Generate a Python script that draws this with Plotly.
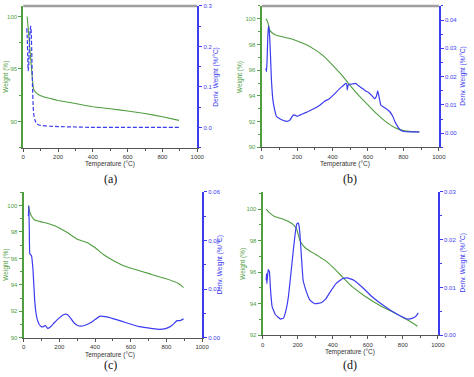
import plotly.graph_objects as go

# ---------------- data ----------------
# Panel (a)
Ta_w = [22, 26, 30, 35, 40, 45, 50, 55, 60, 70, 100, 150, 200, 300, 400, 500, 600, 700, 800, 895]
Wa   = [100.0, 99.3, 98.5, 97.5, 96.5, 95.5, 94.5, 93.6, 93.05, 92.8, 92.45, 92.2, 92.0, 91.7, 91.4, 91.2, 91.0, 90.75, 90.45, 90.1]
Ta_d = [20, 23, 26, 28, 31, 35, 39, 43, 46, 49, 53, 57, 61, 66, 75, 90, 100, 150, 200, 300, 400, 600, 800, 900]
Da   = [0.245, 0.22, 0.17, 0.14, 0.15, 0.20, 0.24, 0.25, 0.23, 0.18, 0.10, 0.05, 0.03, 0.02, 0.01, 0.006, 0.005, 0.003, 0.002, 0.001, 0.0, 0.0, 0.0, 0.0]

# Panel (b)
Tb_w = [25, 35, 46, 60, 87, 150, 200, 250, 300, 350, 400, 450, 500, 550, 600, 650, 700, 750, 800, 850, 890]
Wb   = [100.0, 99.7, 99.1, 98.9, 98.7, 98.5, 98.28, 98.0, 97.6, 97.1, 96.4, 95.65, 94.8, 94.0, 93.3, 92.6, 92.0, 91.55, 91.3, 91.22, 91.2]
Tb_d = [24, 27, 30, 34, 38, 40, 43, 46, 50, 55, 60, 65, 75, 83, 100, 120, 142, 160, 179, 190, 200, 230, 260, 300, 330,
        355, 382, 410, 437, 460, 474, 480, 483, 487, 493, 510, 530, 548, 570, 585, 603, 620, 637, 648, 655, 662, 673,
        695, 723, 740, 751, 765, 779, 800, 843, 890]
Db   = [0.023, 0.0218, 0.025, 0.033, 0.038, 0.0375, 0.036, 0.033, 0.027, 0.019, 0.014, 0.011, 0.0078, 0.006, 0.0052,
        0.0046, 0.0042, 0.0047, 0.0065, 0.0063, 0.006, 0.0068, 0.0076, 0.0088, 0.01,
        0.0113, 0.0122, 0.0138, 0.0156, 0.0168, 0.0176, 0.0174, 0.0153, 0.0168, 0.0173, 0.0174, 0.0176, 0.0167,
        0.0158, 0.015, 0.0144, 0.0134, 0.0122, 0.0132, 0.015, 0.013, 0.0099,
        0.009, 0.0076, 0.006, 0.0042, 0.0026, 0.0014, 0.0006, 0.0005, 0.0005]

# Panel (c)
Tc_w = [27, 35, 44, 62, 99, 154, 200, 245, 300, 355, 401, 447, 502, 557, 612, 703, 795, 868, 896]
Wc   = [100.0, 99.5, 99.2, 98.9, 98.76, 98.56, 98.3, 97.95, 97.45, 97.2, 96.8, 96.3, 95.84, 95.47, 95.22, 94.85, 94.48, 94.1, 93.8]
Tc_d = [27, 29, 32, 35, 44, 53, 62, 70, 77, 88, 99, 110, 121, 135, 150, 172, 200, 227, 245, 262, 282, 300, 319,
        345, 374, 400, 429, 465, 520, 575, 648, 722, 760, 795, 831, 859, 877, 896]
Dc   = [0.050, 0.054, 0.045, 0.0345, 0.0338, 0.0277, 0.0156, 0.010, 0.0075, 0.0055, 0.0046, 0.0046, 0.0051, 0.0039,
        0.0045, 0.0062, 0.0082, 0.0096, 0.0096, 0.0082, 0.0062, 0.0052, 0.0048,
        0.0052, 0.0062, 0.0075, 0.0089, 0.0086, 0.0075, 0.0062, 0.0046, 0.0038, 0.0035, 0.0038, 0.0051, 0.0071, 0.0071, 0.0078]

# Panel (d)
Td_w = [20, 40, 63, 90, 119, 145, 166, 180, 194, 205, 213, 230, 250, 278, 306, 334, 362, 399, 455, 511, 586, 679, 772, 830, 884]
Wd   = [100.0, 99.75, 99.56, 99.45, 99.35, 99.22, 99.08, 98.95, 98.73, 98.3, 98.0, 97.7, 97.48, 97.28, 97.1, 96.9, 96.7,
        96.33, 95.7, 95.08, 94.46, 93.83, 93.31, 92.95, 92.58]
Td_d = [20, 22, 24, 28, 32, 36, 39, 45, 54, 73, 101, 119, 135, 147, 160, 175, 185, 194, 203, 208, 213, 222, 231, 246,
        269, 297, 334, 360, 381, 418, 455, 483, 520, 567, 623, 698, 772, 828, 856, 875, 888]
Dd   = [0.0115, 0.0129, 0.0108, 0.0125, 0.0137, 0.0135, 0.0132, 0.0095, 0.006, 0.0043, 0.0034, 0.0036, 0.0055, 0.0081,
        0.0125, 0.0177, 0.021, 0.0232, 0.0235, 0.0228, 0.021, 0.016, 0.0115, 0.0095,
        0.0074, 0.0066, 0.0068, 0.0076, 0.0088, 0.0108, 0.0118, 0.012, 0.0115, 0.0101, 0.0081, 0.006, 0.0043, 0.0034,
        0.0036, 0.004, 0.0047]

x_ticks = [0, 200, 400, 600, 800, 1000]
panel_labels = ["(a)", "(b)", "(c)", "(d)"]
x_title = "Temperature (°C)"
left_title = "Weight (%)"
right_title = "Deriv. Weight (%/°C)"

GREEN = "#4f9e3f"
BLUE = "#3b3bf0"
GRAY = "#555555"
W, H = 474, 377

def px(x):
    return x / W

def py(y):
    return 1 - y / H

panels = [
    dict(box=(21.7, 199.0, 3, 147), lr=[87.5, 101], lt=[90, 95, 100], ldt=2.5,
         rr=[-0.05, 0.3], rt=[0.0, 0.1, 0.2, 0.3], rdt=0.05, rf=".1f",
         T_w=Ta_w, Wv=Wa, T_d=Ta_d, Dv=Da, dash="4px,2px", top=True,
         lab=(111, 179), xt=(110, 164), ltx=4, rtx=218),
    dict(box=(264.7, 445.3, 3, 146.7), lr=[90, 101], lt=[90, 92, 94, 96, 98, 100], ldt=1,
         rr=[-0.005, 0.045], rt=[0.0, 0.01, 0.02, 0.03, 0.04], rdt=0.005, rf=".2f",
         T_w=Tb_w, Wv=Wb, T_d=Tb_d, Dv=Db, dash="solid", top=True,
         lab=(355, 179), xt=(350, 164), ltx=242, rtx=470),
    dict(box=(22, 204, 191.7, 340.3), lr=[90, 101.04], lt=[90, 92, 94, 96, 98, 100], ldt=1,
         rr=[0, 0.06], rt=[0.0, 0.02, 0.04, 0.06], rdt=0.01, rf=".2f",
         T_w=Tc_w, Wv=Wc, T_d=Tc_d, Dv=Dc, dash="solid", top=False,
         lab=(111, 368), xt=(110, 358), ltx=4, rtx=222),
    dict(box=(265.7, 444.3, 191.7, 337.7), lr=[92, 101.1], lt=[92, 94, 96, 98, 100], ldt=1,
         rr=[0, 0.03], rt=[0.0, 0.01, 0.02, 0.03], rdt=0.005, rf=".2f",
         T_w=Td_w, Wv=Wd, T_d=Td_d, Dv=Dd, dash="solid", top=False,
         lab=(355, 368), xt=(355, 355), ltx=246, rtx=470),
]

fig = go.Figure()
layout = {}
annotations = []
shapes = []
tickfont = dict(family="Arial, Liberation Sans, sans-serif", size=6)

def ann(text, x, y, font, angle=0):
    return dict(text=text, x=px(x), y=py(y), xref="paper", yref="paper",
                xanchor="center", yanchor="middle", textangle=angle,
                showarrow=False, font=font)

for i, p in enumerate(panels):
    xi = i + 1
    yl = 2 * i + 1
    yr = 2 * i + 2
    xname = "x" if xi == 1 else f"x{xi}"
    ylname = "y" if yl == 1 else f"y{yl}"
    yrname = f"y{yr}"
    x0, x1, yt, yb = p["box"]
    xdom = [px(x0), px(x1)]
    ydom = [py(yb), py(yt)]

    layout["xaxis" if xi == 1 else f"xaxis{xi}"] = dict(
        domain=xdom, range=[0, 1000], anchor=ylname, tickvals=x_ticks,
        showline=True, linecolor=GRAY, linewidth=1, ticks="outside", ticklen=3,
        tickcolor=GRAY, tickfont=dict(tickfont, color="#333333"),
        minor=dict(ticks="outside", ticklen=2, dtick=100, tickcolor=GRAY),
        showgrid=False, zeroline=False, fixedrange=True)
    layout["yaxis" if yl == 1 else f"yaxis{yl}"] = dict(
        domain=ydom, range=p["lr"], anchor=xname, tickvals=p["lt"],
        showline=True, linecolor=GREEN, linewidth=2, ticks="outside", ticklen=3,
        tickcolor=GREEN, tickfont=dict(tickfont, color=GREEN),
        minor=dict(ticks="outside", ticklen=2, dtick=p["ldt"], tickcolor=GREEN),
        showgrid=False, zeroline=False, fixedrange=True)
    layout[f"yaxis{yr}"] = dict(
        domain=ydom, range=p["rr"], anchor=xname, overlaying=ylname, side="right",
        tickvals=p["rt"], tickformat=p["rf"],
        showline=True, linecolor=BLUE, linewidth=2, ticks="outside", ticklen=3,
        tickcolor=BLUE, tickfont=dict(tickfont, color=BLUE),
        minor=dict(ticks="outside", ticklen=2, dtick=p["rdt"], tickcolor=BLUE),
        showgrid=False, zeroline=False, fixedrange=True)

    fig.add_trace(go.Scatter(x=p["T_w"], y=p["Wv"], mode="lines",
                             line=dict(color=GREEN, width=1.1, shape="spline", smoothing=0.3),
                             xaxis=xname, yaxis=ylname, showlegend=False, hoverinfo="skip"))
    fig.add_trace(go.Scatter(x=p["T_d"], y=p["Dv"], mode="lines",
                             line=dict(color=BLUE, width=1.2, dash=p["dash"], shape="spline", smoothing=0.3),
                             xaxis=xname, yaxis=yrname, showlegend=False, hoverinfo="skip"))

    if p["top"]:
        shapes.append(dict(type="line", xref="paper", yref="paper",
                           x0=xdom[0], x1=xdom[1], y0=ydom[1], y1=ydom[1],
                           line=dict(color="#a0a0a0", width=2.5)))

    cy = (yt + yb) / 2
    annotations.append(ann(left_title, p["ltx"], cy, dict(tickfont, color=GREEN, size=6.5), -90))
    annotations.append(ann(right_title, p["rtx"], cy, dict(tickfont, color=BLUE, size=6.5), -90))
    annotations.append(ann(x_title, p["xt"][0], p["xt"][1], dict(tickfont, color="#333333", size=6.5)))
    annotations.append(ann(panel_labels[i], p["lab"][0], p["lab"][1],
                           dict(family="Liberation Serif, Times New Roman, serif", color="#111111", size=12)))

fig.update_layout(**layout)
fig.update_layout(width=W, height=H, margin=dict(l=0, r=0, t=0, b=0),
                  paper_bgcolor="white", plot_bgcolor="white",
                  annotations=annotations, shapes=shapes, showlegend=False)

fig.write_html("out.html", config={"displayModeBar": False},
               post_script="document.body.style.margin='0';document.body.style.padding='0';")
